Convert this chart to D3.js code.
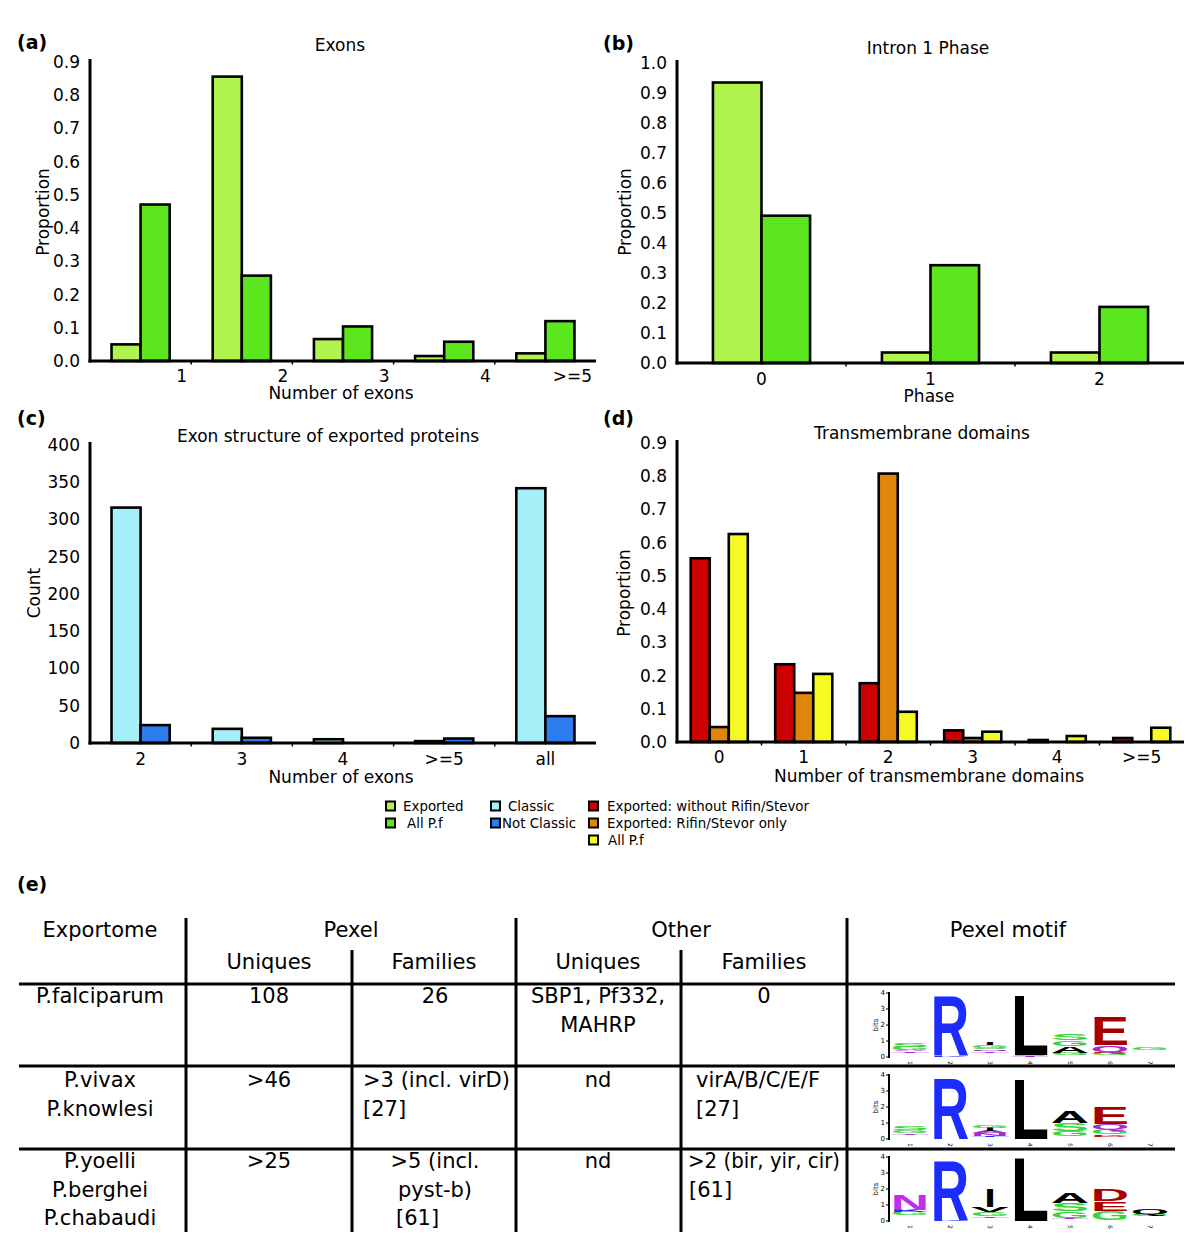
<!DOCTYPE html>
<html><head><meta charset="utf-8">
<script src="https://cdn.jsdelivr.net/npm/d3@7"></script>
<style>body{margin:0;background:#fff}svg{display:block}</style>
</head><body><svg id="fig" width="1200" height="1241"></svg>
<script>
// ---------------- DATA ----------------
const exonCats = ["1","2","3","4",">=5"];
const exonsExported = [0.050,0.856,0.066,0.015,0.023];
const exonsAllPf   = [0.471,0.257,0.104,0.058,0.120];

const phaseCats = ["0","1","2"];
const phaseExported = [0.935,0.035,0.035];
const phaseAllPf    = [0.491,0.326,0.187];

const structCats = ["2","3","4",">=5","all"];
const structClassic    = [316,19,5,2.5,342];
const structNotClassic = [24,7,0,6,36];

const tmCats = ["0","1","2","3","4",">=5"];
const tmWithoutRifin = [0.553,0.234,0.177,0.035,0.006,0.012];
const tmRifinOnly    = [0.045,0.148,0.808,0.012,0,0];
const tmAllPf        = [0.626,0.205,0.091,0.031,0.018,0.043];

const ticksProp09 = [0,0.1,0.2,0.3,0.4,0.5,0.6,0.7,0.8,0.9];
const ticksProp10 = [0,0.1,0.2,0.3,0.4,0.5,0.6,0.7,0.8,0.9,1.0];
const ticksCount  = [0,50,100,150,200,250,300,350,400];

const legendCol1 = ["Exported","All P.f"];
const legendCol2 = ["Classic","Not Classic"];
const legendCol3 = ["Exported: without Rifin/Stevor","Exported: Rifin/Stevor only","All P.f"];

const tableHead1 = ["Exportome","Pexel","Other","Pexel motif"];
const tableHead2 = ["Uniques","Families","Uniques","Families"];
const tableSpecies = [["P.falciparum"],["P.vivax","P.knowlesi"],["P.yoelli","P.berghei","P.chabaudi"]];
const pexelUniques = [["108"],[">46"],[">25"]];
const pexelFamilies = [["26"],[">3 (incl. virD)","[27]"],[">5 (incl.","pyst-b)","[61]"]];
const otherUniques = [["SBP1, Pf332,","MAHRP"],["nd"],["nd"]];
const otherFamilies = [["0"],["virA/B/C/E/F","[27]"],[">2 (bir, yir, cir)","[61]"]];

// sequence logos: per position, stack bottom-up [letter, colour key, bits]; "" = spacer
const logoPf = [
  [["",0,0.28],["T","purple",0.07],["A","purple",0.06],["G","green",0.22],["S","green",0.2]],
  [["K","blue",0.1],["R","blue",3.8]],
  [["",0,0.28],["T","purple",0.1],["N","purple",0.1],["S","green",0.1],["G","green",0.16],["I","black",0.15]],
  [["T","purple",0.05],["S","green",0.07],["L","black",3.8]],
  [["",0,0.1],["G","green",0.18],["A","black",0.42],["G","green",0.35],["S","green",0.38]],
  [["",0,0.12],["G","green",0.12],["D","red",0.1],["Q","purple",0.4],["E","darkred",1.85]],
  [["",0,0.42],["G","green",0.16]],
];
const logoPvPk = [
  [["",0,0.28],["T","purple",0.1],["G","green",0.17],["S","green",0.2]],
  [["R","blue",3.9]],
  [["",0,0.1],["T","blue",0.1],["N","purple",0.15],["A","purple",0.15],["I","black",0.2],["G","green",0.15]],
  [["L","black",3.8]],
  [["",0,0.2],["G","green",0.3],["S","green",0.5],["A","black",0.75]],
  [["",0,0.1],["D","red",0.1],["K","blue",0.1],["G","green",0.35],["Q","purple",0.3],["E","darkred",1.1]],
  [],
];
const logoRodent = [
  [["",0,0.35],["G","green",0.2],["K","blue",0.12],["N","magenta",1.0]],
  [["K","blue",0.05],["R","blue",3.85]],
  [["",0,0.2],["T","purple",0.1],["G","green",0.25],["V","black",0.3],["I","black",1.15]],
  [["L","black",4.05]],
  [["",0,0.1],["T","purple",0.1],["G","green",0.4],["S","green",0.5],["A","black",0.65]],
  [["",0,0.05],["G","green",0.6],["E","darkred",0.6],["D","darkred",0.75]],
  [["",0,0.3],["G","green",0.15],["Q","black",0.3]],
];
const logoPositions = ["1","2","3","4","5","6","7"];
const logoBitTicks = [0,1,2,3,4];

// ---------------- STYLE ----------------
const FONT = "'DejaVu Sans', sans-serif";
const C = {
  lightGreen:"#b2f44e", green:"#5be61e", lightBlue:"#a6eef8", blue:"#2d7cf0",
  red:"#cc0000", orange:"#e0860a", yellow:"#f4fa22"
};
const svg = d3.select("#fig");
svg.append("rect").attr("width",1200).attr("height",1241).attr("fill","#fff");

function txt(g, s, x, y, opts={}) {
  const t = g.append("text").attr("x",x).attr("y",y).text(s)
    .attr("font-family",FONT).attr("font-size",opts.size||17)
    .attr("text-anchor",opts.anchor||"middle").attr("fill","#000");
  if (opts.bold) t.attr("font-weight","bold");
  if (opts.db) t.attr("dominant-baseline",opts.db);
  return t;
}

function barPanel(cfg) {
  const g = svg.append("g");
  const x = d3.scaleBand().domain(cfg.cats).range([cfg.x0,cfg.x1]).paddingInner(0).paddingOuter(0);
  const keys = d3.range(cfg.series.length);
  const xs = d3.scaleBand().domain(keys).range([0,x.bandwidth()]).paddingInner(0).paddingOuter(cfg.padOuter);
  const y = d3.scaleLinear().domain([0,cfg.yMax]).range([cfg.yBase,cfg.yTop]);

  cfg.series.forEach((s,j)=>{
    g.append("g").selectAll("rect").data(s.values.map((v,i)=>({v,c:cfg.cats[i]})).filter(d=>d.v>0))
      .join("rect")
      .attr("x",d=>x(d.c)+xs(j)).attr("width",xs.bandwidth())
      .attr("y",d=>y(d.v)).attr("height",d=>y(0)-y(d.v))
      .attr("fill",s.color).attr("stroke","#000").attr("stroke-width",2.6);
  });

  const ya = g.append("g").attr("transform",`translate(${cfg.x0},0)`)
    .call(d3.axisLeft(y).tickValues(cfg.ticks).tickFormat(cfg.fmt).tickSize(0).tickPadding(10));
  ya.select(".domain").remove();
  ya.selectAll("text").attr("font-family",FONT).attr("font-size",17).attr("fill","#000");
  g.append("line").attr("x1",cfg.x0).attr("x2",cfg.x0).attr("y1",y(cfg.yMax)-3).attr("y2",y(0)+1.5)
    .attr("stroke","#000").attr("stroke-width",3);

  const xa = g.append("g").attr("transform",`translate(0,${cfg.yBase})`)
    .call(d3.axisBottom(x).tickSize(0).tickPadding(0));
  xa.select(".domain").remove();
  xa.selectAll("text").attr("font-family",FONT).attr("font-size",17).attr("fill","#000")
    .attr("dy",null).attr("y",cfg.xLabelY - cfg.yBase);
  if (cfg.rightLabels) {
    xa.selectAll("text").attr("text-anchor","end").attr("x",x.bandwidth()/2-4);
  }
  g.append("line").attr("x1",cfg.x0-1.5).attr("x2",cfg.x1).attr("y1",cfg.yBase).attr("y2",cfg.yBase)
    .attr("stroke","#000").attr("stroke-width",3);
  g.append("g").selectAll("line").data(cfg.cats.slice(1)).join("line")
    .attr("x1",d=>x(d)).attr("x2",d=>x(d)).attr("y1",cfg.yBase).attr("y2",cfg.yBase+3.5)
    .attr("stroke","#000").attr("stroke-width",1.5);

  txt(g, cfg.title, cfg.titleX, cfg.titleY);
  txt(g, cfg.xTitle, cfg.xTitleX, cfg.xTitleY);
  txt(g, cfg.yTitle, 0, 0, {db:"central"}).attr("transform",`translate(${cfg.yTitleX},${cfg.yTitleY}) rotate(-90)`);
  txt(g, cfg.label, cfg.labelX, cfg.labelY, {anchor:"start", bold:true, size:19});
}

const f1 = d3.format(".1f"), f0 = d3.format("d");

barPanel({cats:exonCats, series:[{values:exonsExported,color:C.lightGreen},{values:exonsAllPf,color:C.green}],
  x0:90, x1:596, yBase:361, yTop:62, yMax:0.9, ticks:ticksProp09, fmt:f1, padOuter:0.74,
  rightLabels:true, xLabelY:382, title:"Exons", titleX:340, titleY:51,
  xTitle:"Number of exons", xTitleX:341, xTitleY:399, yTitle:"Proportion", yTitleX:43, yTitleY:212,
  label:"(a)", labelX:17, labelY:49});

barPanel({cats:phaseCats, series:[{values:phaseExported,color:C.lightGreen},{values:phaseAllPf,color:C.green}],
  x0:677, x1:1184, yBase:363, yTop:63, yMax:1.0, ticks:ticksProp10, fmt:f1, padOuter:0.74,
  xLabelY:385, title:"Intron 1 Phase", titleX:928, titleY:54,
  xTitle:"Phase", xTitleX:929, xTitleY:402, yTitle:"Proportion", yTitleX:625, yTitleY:212,
  label:"(b)", labelX:603, labelY:50});

barPanel({cats:structCats, series:[{values:structClassic,color:C.lightBlue},{values:structNotClassic,color:C.blue}],
  x0:90, x1:596, yBase:743, yTop:445, yMax:400, ticks:ticksCount, fmt:f0, padOuter:0.74,
  xLabelY:765, title:"Exon structure of exported proteins", titleX:328, titleY:442,
  xTitle:"Number of exons", xTitleX:341, xTitleY:783, yTitle:"Count", yTitleX:34, yTitleY:593,
  label:"(c)", labelX:17, labelY:425});

barPanel({cats:tmCats, series:[{values:tmWithoutRifin,color:C.red},{values:tmRifinOnly,color:C.orange},{values:tmAllPf,color:C.yellow}],
  x0:677, x1:1184, yBase:742, yTop:443, yMax:0.9, ticks:ticksProp09, fmt:f1, padOuter:0.72,
  xLabelY:763, title:"Transmembrane domains", titleX:922, titleY:439,
  xTitle:"Number of transmembrane domains", xTitleX:929, xTitleY:782, yTitle:"Proportion", yTitleX:624, yTitleY:593,
  label:"(d)", labelX:603, labelY:425});

// ---------------- LEGEND ----------------
(function(){
  const g = svg.append("g");
  const rowsY = [806, 823, 840];
  const cols = [
    {names:legendCol1, colors:[C.lightGreen,C.green], sx:386, tx:[403,407]},
    {names:legendCol2, colors:[C.lightBlue,C.blue], sx:491, tx:[508,502]},
    {names:legendCol3, colors:[C.red,C.orange,C.yellow], sx:589, tx:[607,607,608]},
  ];
  cols.forEach(col=>{
    col.names.forEach((n,i)=>{
      g.append("rect").attr("x",col.sx).attr("y",rowsY[i]-4.5).attr("width",9).attr("height",9)
        .attr("fill",col.colors[i]).attr("stroke","#000").attr("stroke-width",2);
      txt(g, n, col.tx[i], rowsY[i]+5, {anchor:"start", size:13.4});
    });
  });
})();

// ---------------- TABLE (e) ----------------
(function(){
  const g = svg.append("g");
  txt(g, "(e)", 17, 891, {anchor:"start", bold:true, size:19});
  const TS = 21;
  const colB = [19,186,352,516,681,847,1175];
  const hLines = [984,1066,1149];
  hLines.forEach(yy=> g.append("line").attr("x1",colB[0]).attr("x2",colB[6]).attr("y1",yy).attr("y2",yy)
     .attr("stroke","#000").attr("stroke-width",3));
  [186,516,847].forEach(xx=> g.append("line").attr("x1",xx).attr("x2",xx).attr("y1",918).attr("y2",1232)
     .attr("stroke","#000").attr("stroke-width",3));
  [352,681].forEach(xx=> g.append("line").attr("x1",xx).attr("x2",xx).attr("y1",950).attr("y2",1232)
     .attr("stroke","#000").attr("stroke-width",3));

  const h1x = [100, 351, 681, 1008];
  tableHead1.forEach((s,i)=> txt(g, s, h1x[i], 937, {size:TS}));
  const h2x = [269, 434, 598, 764];
  tableHead2.forEach((s,i)=> txt(g, s, h2x[i], 969, {size:TS}));

  const rowY = [1003, 1087, 1168];
  const LH = 28.5;
  function cell(lines, r, x, anchorFn) {
    lines.forEach((s,k)=>{
      const a = anchorFn ? anchorFn(r,k) : {anchor:"middle", x};
      const t = txt(g, s, a.x, rowY[r]+k*LH, {size:TS, anchor:a.anchor});
      if (a.fit) t.attr("textLength",a.fit).attr("lengthAdjust","spacingAndGlyphs");
    });
  }
  tableSpecies.forEach((l,r)=>cell(l,r,100));
  pexelUniques.forEach((l,r)=>cell(l,r,269));
  pexelFamilies.forEach((l,r)=>cell(l,r,435,(rr,k)=>{
    if (rr===1) return {anchor:"start", x:363};
    if (rr===2 && k===2) return {anchor:"start", x:396};
    return {anchor:"middle", x:435};
  }));
  otherUniques.forEach((l,r)=>cell(l,r,598));
  otherFamilies.forEach((l,r)=>cell(l,r,764,(rr,k)=>{
    if (rr===1) return {anchor:"start", x:696};
    if (rr===2) return k===0 ? {anchor:"start", x:688, fit:152} : {anchor:"start", x:689};
    return {anchor:"middle", x:764};
  }));

  // logos
  const LC = {green:"#38d438", purple:"#a52ad0", magenta:"#c02ee8", blue:"#1c2cff", black:"#000",
              darkred:"#a80000", red:"#d01010"};
  const narrow = {I:0.3};
  const logos = [logoPf, logoPvPk, logoRodent];
  const bases = [1057, 1139, 1221];
  const axX = 889;
  const colScale = d3.scaleBand().domain(logoPositions).range([890,1170]).paddingInner(0.04).paddingOuter(0.02);
  const LFONT = "'Liberation Sans', Arial, sans-serif";
  const measure = g.append("text").attr("font-family",LFONT)
     .attr("font-weight","bold").attr("font-size",100).attr("x",-500).attr("y",-500);
  logos.forEach((logo,li)=>{
    const base = bases[li];
    const yb = d3.scaleLinear().domain([0,4]).range([base, base-64]);
    const lg = g.append("g");
    lg.append("line").attr("x1",axX).attr("x2",axX).attr("y1",yb(4)-1).attr("y2",yb(0)+1)
      .attr("stroke","#000").attr("stroke-width",2);
    logoBitTicks.forEach(t=>{
      lg.append("line").attr("x1",axX-3).attr("x2",axX).attr("y1",yb(t)).attr("y2",yb(t)).attr("stroke","#000").attr("stroke-width",1);
      txt(lg, String(t), axX-4, yb(t), {size:7, anchor:"end", db:"central"});
    });
    txt(lg, "bits", 0, 0, {size:7, db:"central"}).attr("transform",`translate(${axX-13},${yb(2)}) rotate(-90)`);
    logoPositions.forEach(p=>{
      txt(lg, p, 0, 0, {size:6, anchor:"start", db:"central"})
        .attr("transform",`translate(${colScale(p)+colScale.bandwidth()/2},${base+4}) rotate(90)`);
    });
    logo.forEach((stack,pi)=>{
      const x0 = colScale(logoPositions[pi]), w = colScale.bandwidth();
      let acc = 0;
      stack.forEach(([ch,col,h])=>{
        if (ch) {
          measure.text(ch);
          const adv = measure.node().getComputedTextLength();
          const frac = narrow[ch] || 1;
          const ww = w*frac, xx = x0 + (w-ww)/2;
          const sx = ww/adv, sy = (yb(0)-yb(h))/71.6;
          lg.append("text").text(ch).attr("font-family",LFONT)
            .attr("font-weight","bold").attr("font-size",100).attr("fill",LC[col])
            .attr("transform",`translate(${xx},${yb(acc)}) scale(${sx},${sy})`);
        }
        acc += h;
      });
    });
  });
  measure.remove();
})();
</script></body></html>
